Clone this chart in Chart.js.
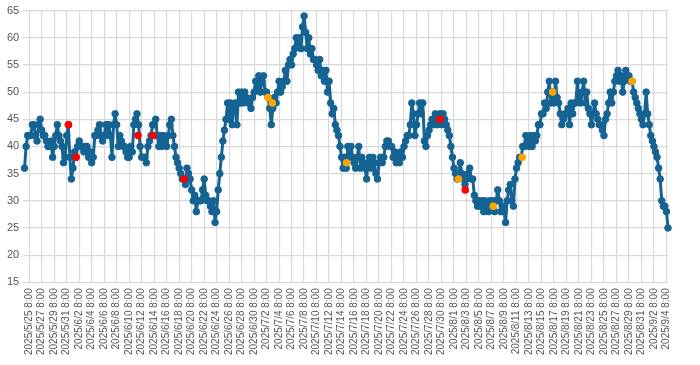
<!DOCTYPE html>
<html>
<head>
<meta charset="utf-8">
<script src="https://cdn.jsdelivr.net/npm/chart.js@4.4.1/dist/chart.umd.min.js"></script>
<style>
  html, body { margin: 0; padding: 0; background: #fff; }
  #wrap { width: 700px; height: 365px; }
</style>
</head>
<body>
<div id="wrap"><canvas id="lineChart" width="700" height="365"></canvas></div>
<script>
// x-axis labels, one every 2 days (48 hours apart)
const tickLabels = [
    '2025/5/25 8:00', '2025/5/27 8:00', '2025/5/29 8:00', '2025/5/31 8:00',
    '2025/6/2 8:00', '2025/6/4 8:00', '2025/6/6 8:00', '2025/6/8 8:00',
    '2025/6/10 8:00', '2025/6/12 8:00', '2025/6/14 8:00', '2025/6/16 8:00',
    '2025/6/18 8:00', '2025/6/20 8:00', '2025/6/22 8:00', '2025/6/24 8:00',
    '2025/6/26 8:00', '2025/6/28 8:00', '2025/6/30 8:00', '2025/7/2 8:00',
    '2025/7/4 8:00', '2025/7/6 8:00', '2025/7/8 8:00', '2025/7/10 8:00',
    '2025/7/12 8:00', '2025/7/14 8:00', '2025/7/16 8:00', '2025/7/18 8:00',
    '2025/7/20 8:00', '2025/7/22 8:00', '2025/7/24 8:00', '2025/7/26 8:00',
    '2025/7/28 8:00', '2025/7/30 8:00', '2025/8/1 8:00', '2025/8/3 8:00',
    '2025/8/5 8:00', '2025/8/7 8:00', '2025/8/9 8:00', '2025/8/11 8:00',
    '2025/8/13 8:00', '2025/8/15 8:00', '2025/8/17 8:00', '2025/8/19 8:00',
    '2025/8/21 8:00', '2025/8/23 8:00', '2025/8/25 8:00', '2025/8/27 8:00',
    '2025/8/29 8:00', '2025/8/31 8:00', '2025/9/2 8:00', '2025/9/4 8:00'
];
const tickStepHours = 48;

// readings every 6 hours, first one at 2025/5/24 14:00 (-18 h from the first label)
const startHour = -18;
const stepHours = 6;
const values = [
    36, 40, 42,
    42, 42, 44, 44, 42, 41, 44, 45,   // 5/25
    43, 42, 42, 41, 40, 40, 41, 38,   // 5/27
    40, 42, 44, 42, 41, 40, 37, 38,   // 5/29
    42, 44, 38, 34, 36, 39, 38, 40,   // 5/31
    41, 40, 40, 39, 40, 40, 38, 39,   // 6/2
    37, 38, 42, 42, 43, 44, 42, 41,   // 6/4
    42, 44, 42, 44, 42, 38, 44, 46,   // 6/6
    44, 40, 42, 41, 40, 40, 39, 38,   // 6/8
    38, 40, 39, 44, 45, 46, 44, 40,   // 6/10
    38, 38, 38, 37, 40, 41, 42, 44,   // 6/12
    44, 45, 42, 40, 42, 40, 42, 41,   // 6/14
    40, 42, 44, 45, 42, 40, 38, 37,   // 6/16
    36, 35, 34, 34, 33, 36, 35, 34,   // 6/18
    32, 30, 31, 28, 30, 30, 30, 32,   // 6/20
    34, 31, 30, 30, 29, 28, 30, 26,   // 6/22
    28, 32, 35, 38, 41, 43, 45, 48,   // 6/24
    45, 48, 44, 47, 48, 44, 50, 48,   // 6/26
    50, 48, 50, 49, 48, 48, 47, 49,   // 6/28
    50, 52, 51, 53, 50, 52, 53, 50,   // 6/30
    50, 49, 47, 44, 47, 49, 48, 50,   // 7/2
    52, 50, 51, 52, 54, 52, 55, 56,   // 7/4
    55, 57, 58, 60, 59, 60, 58, 62,   // 7/6
    64, 61, 58, 60, 57, 58, 56, 56,   // 7/8
    55, 54, 56, 53, 54, 52, 54, 50,   // 7/10
    52, 48, 46, 47, 44, 43, 42, 40,   // 7/12
    38, 36, 38, 36, 40, 38, 40, 38,   // 7/14
    37, 36, 38, 40, 36, 38, 37, 36,   // 7/16
    34, 37, 38, 36, 38, 37, 35, 34,   // 7/18
    37, 38, 37, 38, 40, 41, 41, 40,   // 7/20
    40, 38, 39, 37, 38, 37, 39, 38,   // 7/22
    40, 41, 42, 42, 44, 48, 46, 42,   // 7/24
    44, 46, 48, 46, 48, 41, 40, 42,   // 7/26
    43, 44, 45, 44, 46, 44, 45, 46,   // 7/28
    44, 46, 45, 44, 43, 42, 40, 38,   // 7/30
    36, 35, 34, 35, 37, 35, 34, 33,   // 8/1
    34, 35, 36, 34, 34, 31, 30, 29,   // 8/3
    30, 29, 30, 28, 30, 29, 28, 30,   // 8/5
    29, 30, 28, 30, 32, 30, 28, 29,   // 8/7
    28, 26, 30, 32, 33, 30, 29, 34,   // 8/9
    36, 37, 38, 38, 40, 40, 42, 41,   // 8/11
    40, 42, 40, 42, 41, 42, 44, 44,   // 8/13
    46, 46, 48, 47, 50, 52, 48, 50,   // 8/15
    48, 52, 49, 48, 46, 44, 45, 46,   // 8/17
    46, 47, 44, 48, 46, 48, 48, 52,   // 8/19
    49, 48, 50, 52, 48, 50, 47, 46,   // 8/21
    44, 46, 48, 46, 45, 44, 44, 43,   // 8/23
    42, 45, 46, 48, 50, 48, 50, 52,   // 8/25
    53, 54, 52, 53, 50, 52, 54, 53,   // 8/27
    53, 52, 52, 50, 49, 48, 47, 46,   // 8/29
    45, 44, 46, 50, 46, 44, 42, 41,   // 8/31
    40, 39, 38, 36, 34, 30, 29, 29,   // 9/2
    28, 25                            // 9/4
];

// highlighted readings (hours after 2025/5/25 8:00)
const redHours = [151, 180, 418, 475, 595, 1577, 1675];
const redValues = [44, 38, 42, 42, 34, 45, 32];
const orangeHours = [917, 934, 1219, 1649, 1783, 1894, 2011, 2316];
const orangeValues = [49, 48, 37, 34, 29, 38, 50, 52];

const yTicks = { min: 15, max: 65, step: 5 };

const toPoints = (hours, vals) => hours.map((h, i) => ({ x: h, y: vals[i] }));

const gridStyle = {
    color: '#d9d9d9', // light grey grid
    lineWidth: 1.2,
    drawTicks: false
};

const lineChart = new Chart(
    document.getElementById('lineChart'),
    {
        type: 'line',
        data: {
            datasets: [
                {
                    data: toPoints(redHours, redValues),
                    showLine: false,
                    pointRadius: 3.8,
                    pointBorderWidth: 0,
                    pointBackgroundColor: '#ff0000',
                    order: 0
                },
                {
                    data: toPoints(orangeHours, orangeValues),
                    showLine: false,
                    pointRadius: 3.8,
                    pointBorderWidth: 0,
                    pointBackgroundColor: '#ffa500',
                    order: 0
                },
                {
                    data: values.map((v, i) => ({ x: startHour + i * stepHours, y: v })),
                    borderColor: '#146392',
                    borderWidth: 3,
                    borderJoinStyle: 'round', // no miter spikes on sharp turns
                    pointRadius: 3.3,
                    pointBorderWidth: 1,
                    pointBackgroundColor: '#146392',
                    pointBorderColor: '#146392',
                    tension: 0,
                    order: 1
                }
            ]
        },
        options: {
            responsive: false,
            animation: false,
            devicePixelRatio: 1,
            clip: false,
            layout: { padding: { left: 3, right: 32, top: 2, bottom: 4 } },
            plugins: {
                legend: { display: false },
                tooltip: { enabled: false }
            },
            scales: {
                x: {
                    type: 'linear',
                    min: -23,
                    max: 2454,
                    afterBuildTicks: axis => {
                        axis.ticks = tickLabels.map((_, i) => ({ value: i * tickStepHours }));
                    },
                    ticks: {
                        autoSkip: false,
                        minRotation: 90,
                        maxRotation: 90,
                        padding: 6,
                        color: '#555',
                        font: { family: 'Liberation Sans', size: 10 },
                        callback: (value, index) => tickLabels[index]
                    },
                    grid: gridStyle,
                    border: { display: false }
                },
                y: {
                    min: yTicks.min,
                    max: yTicks.max,
                    ticks: {
                        stepSize: yTicks.step,
                        padding: 4,
                        color: '#555',
                        font: { family: 'Liberation Sans', size: 11 }
                    },
                    grid: gridStyle,
                    border: { display: false }
                }
            }
        }
    }
);
</script>
</body>
</html>
